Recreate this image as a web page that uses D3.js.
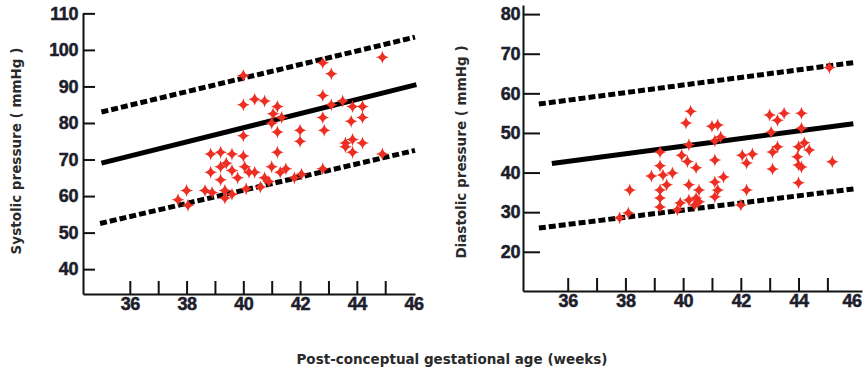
<!DOCTYPE html>
<html>
<head>
<meta charset="utf-8">
<script src="https://cdn.jsdelivr.net/npm/d3@7"></script>
<style>
  body { margin: 0; background: #fff; }
  svg { display: block; }
</style>
</head>
<body>
<div id="chart"></div>
<script>
// ---- data ----
const weekMarks = [36, 37, 38, 39, 40, 41, 42, 43, 44, 45];
const weekLabels = [36, 38, 40, 42, 44, 46];
const sysTicks = [40, 50, 60, 70, 80, 90, 100, 110];
const diaTicks = [20, 30, 40, 50, 60, 70, 80];

// systolic: [week, mmHg]
const sysPoints = [
  [40.0, 93], [44.9, 98], [42.8, 96.5], [43.1, 93.5], [40.0, 85], [40.4, 86.5],
  [40.75, 86], [41.2, 84.5], [41.05, 82.5], [41.35, 81.5], [41.0, 80], [41.2, 77.5],
  [42.0, 78], [42.0, 75], [42.8, 87.5], [42.8, 81.5], [42.85, 78], [43.1, 85],
  [43.5, 86], [43.85, 84.5], [44.2, 84.5], [43.8, 80.5], [44.2, 81.5], [43.6, 74.5],
  [43.85, 75.5], [44.2, 74.5], [43.85, 72], [44.9, 71.5], [40.0, 76.5], [38.85, 71.5],
  [39.2, 72], [39.6, 71.5], [40.0, 71], [41.2, 72], [42.8, 67.5], [38.85, 66.5],
  [39.2, 68], [39.6, 67], [40.05, 68], [40.2, 66.5], [39.8, 65], [39.2, 64.5],
  [40.4, 66.5], [40.75, 65], [41.0, 68], [41.3, 66.5], [41.5, 67.5], [42.05, 66],
  [41.8, 65], [40.9, 64], [40.6, 62.5], [40.1, 62], [38.0, 61.5], [38.65, 61.5],
  [38.9, 61], [39.35, 61.5], [39.35, 59.5], [39.6, 60.5], [37.7, 59], [38.05, 57.5],
  [43.6, 73.5], [39.4, 69]
];
// diastolic: [week, mmHg]
const diaPoints = [
  [45.07, 66.5], [40.26, 55.5], [40.1, 52.5], [40.2, 47], [41.0, 51.7], [41.2, 52],
  [41.1, 48], [41.3, 49], [43.0, 54.5], [43.27, 53.2], [43.5, 55], [44.1, 55],
  [44.1, 51.2], [43.05, 50.2], [39.95, 44.4], [40.15, 42.8], [40.45, 41.2], [41.1, 43.2],
  [39.2, 45.2], [39.2, 41.7], [42.05, 44.4], [42.4, 44.7], [42.2, 42.4], [43.1, 45.2],
  [43.27, 46.5], [43.1, 40.9], [44.0, 46.5], [44.2, 47.5], [44.37, 45.7], [43.96, 44],
  [44.1, 41.4], [45.17, 42.7], [38.9, 39.1], [39.3, 39.4], [39.63, 39.9], [39.43, 36.9],
  [39.2, 35.6], [40.2, 36.9], [40.55, 35.6], [41.1, 37.6], [41.4, 38.9], [41.2, 35.6],
  [38.15, 35.6], [42.2, 35.6], [44.0, 41.9], [44.0, 37.4], [38.1, 29.8], [37.8, 28.6],
  [39.2, 31.3], [39.2, 33.6], [39.8, 30.6], [39.9, 32.3], [40.2, 33.1], [40.4, 31.8],
  [40.45, 33.6], [40.55, 32.6], [41.1, 33.9], [42.0, 31.8]
];

// reference lines: [[week, mmHg], [week, mmHg]]
const sysMean = [[35.0, 69], [46.1, 90.5]];
const sysUpper = [[35.0, 83], [46.05, 103.5]];
const sysLower = [[34.95, 52.5], [46.05, 72.5]];
const diaMean = [[35.45, 42.3], [45.9, 52.3]];
const diaUpper = [[35.0, 57.3], [45.95, 67.8]];
const diaLower = [[35.0, 26], [45.95, 35.9]];

const width = 864, height = 374;
const svg = d3.select("#chart").append("svg")
  .attr("width", width)
  .attr("height", height);

const tickFont = "'Liberation Sans', Arial, sans-serif";
const titleFont = "'DejaVu Sans', 'Open Sans', sans-serif";
const ink = "#1d1d2b";
const red = "#ec2f22";

// 4-point star marker
function star(r) {
  const c = 1;
  return `M0,${-r}Q${c},${-c} ${r},0Q${c},${c} 0,${r}Q${-c},${c} ${-r},0Q${-c},${-c} 0,${-r}Z`;
}

function styleLabels(sel) {
  sel.attr("font-family", tickFont).attr("font-weight", "bold")
    .attr("font-size", 18).attr("letter-spacing", -0.4)
    .attr("fill", ink).attr("stroke", ink).attr("stroke-width", 0.5);
}

function panel(opt) {
  const x = d3.scaleLinear().domain(opt.xDomain).range(opt.xRange);
  const y = d3.scaleLinear().domain(opt.yDomain).range(opt.yRange);
  const g = svg.append("g");

  // x axis: marks at every week, labels every other week
  const xBase = opt.yRange[0];
  g.append("g")
    .attr("transform", `translate(0,${xBase})`)
    .call(d3.axisBottom(x).tickValues(weekMarks).tickFormat("").tickSize(-13).tickSizeOuter(0))
    .call(a => a.selectAll("line, path").attr("stroke", "#111").attr("stroke-width", 2));
  g.append("g")
    .attr("transform", `translate(0,${xBase})`)
    .call(d3.axisBottom(x).tickValues(weekLabels).tickSize(0).tickPadding(3))
    .call(a => a.select(".domain").remove())
    .call(a => a.selectAll("text").call(styleLabels)
      .filter(d => x(d) > width - 12).attr("text-anchor", "end").attr("dx", 5));

  // y axis with inward ticks
  g.append("g")
    .attr("transform", `translate(${opt.xRange[0]},0)`)
    .call(d3.axisLeft(y).tickValues(opt.yTicks).tickSize(-opt.yTickLen).tickSizeOuter(0).tickPadding(opt.yPad))
    .call(a => a.selectAll("line, path").attr("stroke", "#111").attr("stroke-width", 2))
    .call(a => a.selectAll("text").call(styleLabels));

  // y title
  g.append("text")
    .attr("transform", `translate(${opt.titleX},${opt.titleY}) rotate(-90)`)
    .attr("text-anchor", "middle")
    .attr("font-family", titleFont)
    .attr("font-size", 13.5)
    .attr("font-weight", 600)
    .attr("fill", "#2a2a2a")
    .text(opt.title);

  const line = d3.line().x(d => x(d[0])).y(d => y(d[1]));
  [opt.upper, opt.lower].forEach(l => {
    g.append("path").attr("d", line(l))
      .attr("fill", "none").attr("stroke", "#000")
      .attr("stroke-width", 5).attr("stroke-dasharray", "7,3");
  });
  g.append("path").attr("d", line(opt.mean))
    .attr("fill", "none").attr("stroke", "#000").attr("stroke-width", 5);

  g.append("g").selectAll("path")
    .data(opt.points)
    .join("path")
    .attr("transform", d => `translate(${x(d[0])},${y(d[1])})`)
    .attr("d", star(6.5))
    .attr("fill", red);
}

panel({
  xDomain: [34.35, 46.05], xRange: [83, 415],
  yDomain: [33.2, 110.1], yRange: [294, 13],
  yTicks: sysTicks, yTickLen: 12, yPad: 5,
  title: "Systolic pressure ( mmHg )", titleX: 21, titleY: 151,
  points: sysPoints, mean: sysMean, upper: sysUpper, lower: sysLower
});

panel({
  xDomain: [34.45, 46.2], xRange: [523, 862],
  yDomain: [10.1, 82.3], yRange: [291, 5],
  yTicks: diaTicks, yTickLen: 17, yPad: 3,
  title: "Diastolic pressure ( mmHg )", titleX: 466, titleY: 152,
  points: diaPoints, mean: diaMean, upper: diaUpper, lower: diaLower
});

svg.append("text")
  .attr("x", 452).attr("y", 364)
  .attr("text-anchor", "middle")
  .attr("font-family", titleFont)
  .attr("font-size", 13.5)
  .attr("font-weight", 600)
  .attr("fill", "#2a2a2a")
  .text("Post-conceptual gestational age (weeks)");
</script>
</body>
</html>
